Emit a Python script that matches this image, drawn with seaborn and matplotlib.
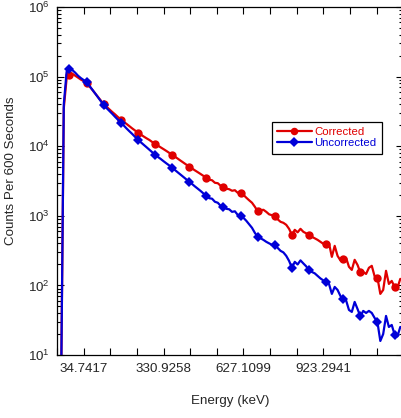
import numpy as np
import pandas as pd
import matplotlib
matplotlib.use("Agg")
import matplotlib.pyplot as plt
from matplotlib.lines import Line2D
from matplotlib.ticker import FixedLocator, LogLocator, NullFormatter, LogFormatterMathtext
import seaborn as sns

# ---- data -------------------------------------------------------------
# energy grid (keV): uniform channel grid
channel_start_kev = -49.40
channel_width_kev = 10.569

corrected = [
    2, 3.5e4, 9.5e4, 1.07e5, 1.10e5, 1.03e5, 9.67e4, 9.06e4, 8.61e4, 8.20e4,
    7.28e4, 6.46e4, 5.73e4, 5.09e4, 4.52e4, 4.02e4, 3.69e4, 3.38e4, 3.10e4, 2.86e4,
    2.62e4, 2.41e4, 2.24e4, 2.09e4, 1.94e4, 1.80e4, 1.68e4, 1.56e4, 1.47e4, 1.38e4,
    1.30e4, 1.23e4, 1.15e4, 1.09e4, 1.02e4, 9610, 9060, 8530, 8010, 7550,
    7060, 6610, 6180, 5790, 5420, 5070, 4780, 4490, 4230, 3980,
    3740, 3520, 3300, 3240, 2980, 2940, 2700, 2610, 2450, 2410,
    2290, 2330, 2140, 2140, 2000, 1820, 1670, 1540, 1350, 1160,
    1200, 1220, 1140, 1050, 1020, 984, 891, 820, 793, 742,
    650, 533, 629, 579, 650, 589, 560, 524, 499, 475,
    451, 423, 396, 389, 402, 257, 370, 266, 229, 241,
    249, 185, 167, 233, 197, 154, 156, 146, 179, 191,
    135, 128, 75.5, 86.1, 162, 105, 116, 95.1, 92.0, 124,
    120,
]

uncorrected = [
    2, 4.0e4, 1.18e5, 1.28e5, 1.24e5, 1.14e5, 1.03e5, 9.51e4, 8.91e4, 8.34e4,
    7.35e4, 6.50e4, 5.73e4, 5.04e4, 4.43e4, 3.89e4, 3.53e4, 3.21e4, 2.92e4, 2.64e4,
    2.40e4, 2.18e4, 1.99e4, 1.80e4, 1.64e4, 1.50e4, 1.36e4, 1.24e4, 1.14e4, 1.05e4,
    9680, 8910, 8200, 7550, 7020, 6550, 6080, 5660, 5280, 4910,
    4540, 4200, 3890, 3600, 3330, 3080, 2860, 2640, 2450, 2270,
    2090, 1940, 1790, 1760, 1590, 1540, 1390, 1350, 1260, 1240,
    1140, 1160, 1030, 1000, 936, 848, 755, 672, 569, 499,
    475, 451, 423, 402, 383, 376, 346, 314, 298, 266,
    225, 179, 218, 200, 229, 207, 188, 164, 156, 149,
    137, 126, 118, 112, 105, 75.5, 95.1, 86.1, 70.6, 62.9,
    60.8, 44.4, 41.6, 57.9, 45.9, 35.8, 43.0, 40.2, 43.0, 40.2,
    34.1, 29.4, 15.9, 20.0, 36.4, 25.3, 27.0, 19.7, 18.5, 25.3,
    24.5,
]

xtick_values = [34.7417, 330.9258, 627.1099, 923.2941]
xtick_labels = ["34.7417", "330.9258", "627.1099", "923.2941"]
tick_step_kev = 98.7280

series_names = ["Corrected", "Uncorrected"]
series_colors = ["#E00000", "#0000D8"]
series_markers = ["o", "D"]
marker_sizes = [6.0, 5.6]

# ---- build table ------------------------------------------------------
energy = channel_start_kev + channel_width_kev * np.arange(len(corrected))
df = pd.DataFrame({
    "Energy": np.concatenate([energy, energy]),
    "Counts": np.concatenate([corrected, uncorrected]),
    "Series": [series_names[0]] * len(corrected) + [series_names[1]] * len(uncorrected),
})

# ---- style ------------------------------------------------------------
sns.set_style("ticks")
plt.rcParams["font.family"] = ["Liberation Sans", "DejaVu Sans"]
plt.rcParams["mathtext.fontset"] = "custom"
plt.rcParams["mathtext.rm"] = "Liberation Sans"
plt.rcParams["mathtext.it"] = "Liberation Sans:italic"
plt.rcParams["mathtext.bf"] = "Liberation Sans:bold"
plt.rcParams["mathtext.default"] = "regular"

fig = plt.figure(figsize=(4.02, 4.18), dpi=100)
ax = fig.add_axes([57 / 402, 1 - 355 / 418, 346.3 / 402, 348 / 418])
ax.set_yscale("log")

for name, color, marker, ms in zip(series_names, series_colors, series_markers, marker_sizes):
    sub = df[df["Series"] == name]
    sns.lineplot(data=sub, x="Energy", y="Counts", ax=ax, color=color,
                 linewidth=1.6, marker=marker, markersize=ms,
                 markeredgewidth=0, markevery=slice(3, None, 6),
                 estimator=None, sort=False, legend=False)

x_left = xtick_values[0] - tick_step_kev
x_right = x_left + 13 * tick_step_kev
ax.set_xlim(x_left, x_right)
ax.set_ylim(10, 1e6)

all_xticks = [xtick_values[0] + k * tick_step_kev for k in range(-1, 13)]
ax.xaxis.set_major_locator(FixedLocator(all_xticks))
lab_map = {round(v, 2): l for v, l in zip(xtick_values, xtick_labels)}
ax.set_xticklabels([lab_map.get(round(t, 2), "") for t in all_xticks])

ax.yaxis.set_major_locator(LogLocator(base=10, numticks=10))
ax.yaxis.set_minor_locator(LogLocator(base=10, subs=np.arange(2, 10), numticks=10))
ax.yaxis.set_major_formatter(LogFormatterMathtext())
ax.yaxis.set_minor_formatter(NullFormatter())

ax.tick_params(axis="both", which="both", direction="in", top=True, right=True,
               color="black", width=0.8)
ax.tick_params(axis="x", which="major", length=5, pad=6, labelsize=9.6)
ax.tick_params(axis="y", which="major", length=5, pad=5, labelsize=9.6)
ax.tick_params(axis="y", which="minor", length=3)
ax.tick_params(axis="x", which="minor", bottom=False, top=False)

for s in ax.spines.values():
    s.set_color("black")
    s.set_linewidth(0.9)

ax.set_xlabel("Energy (keV)", fontsize=9.6, labelpad=14)
ax.set_ylabel("Counts Per 600 Seconds", fontsize=9.6)
ax.yaxis.set_label_coords(-0.115, 0.53)

handles = [Line2D([0], [0], color=c, linewidth=1.6, marker=m, markersize=ms - 0.6,
                  markeredgewidth=0)
           for c, m, ms in zip(series_colors, series_markers, marker_sizes)]
leg = ax.legend(handles, series_names, loc="upper left", bbox_to_anchor=(0.620, 0.669),
                borderaxespad=0, fontsize=8.2, frameon=True, fancybox=False,
                handlelength=3.1, handletextpad=0.2, labelspacing=0.1, borderpad=0.45,
                numpoints=1, labelcolor="linecolor")
leg.get_frame().set_edgecolor("black")
leg.get_frame().set_linewidth(0.9)
leg.get_frame().set_alpha(1)

fig.savefig("out.png", dpi=100)
